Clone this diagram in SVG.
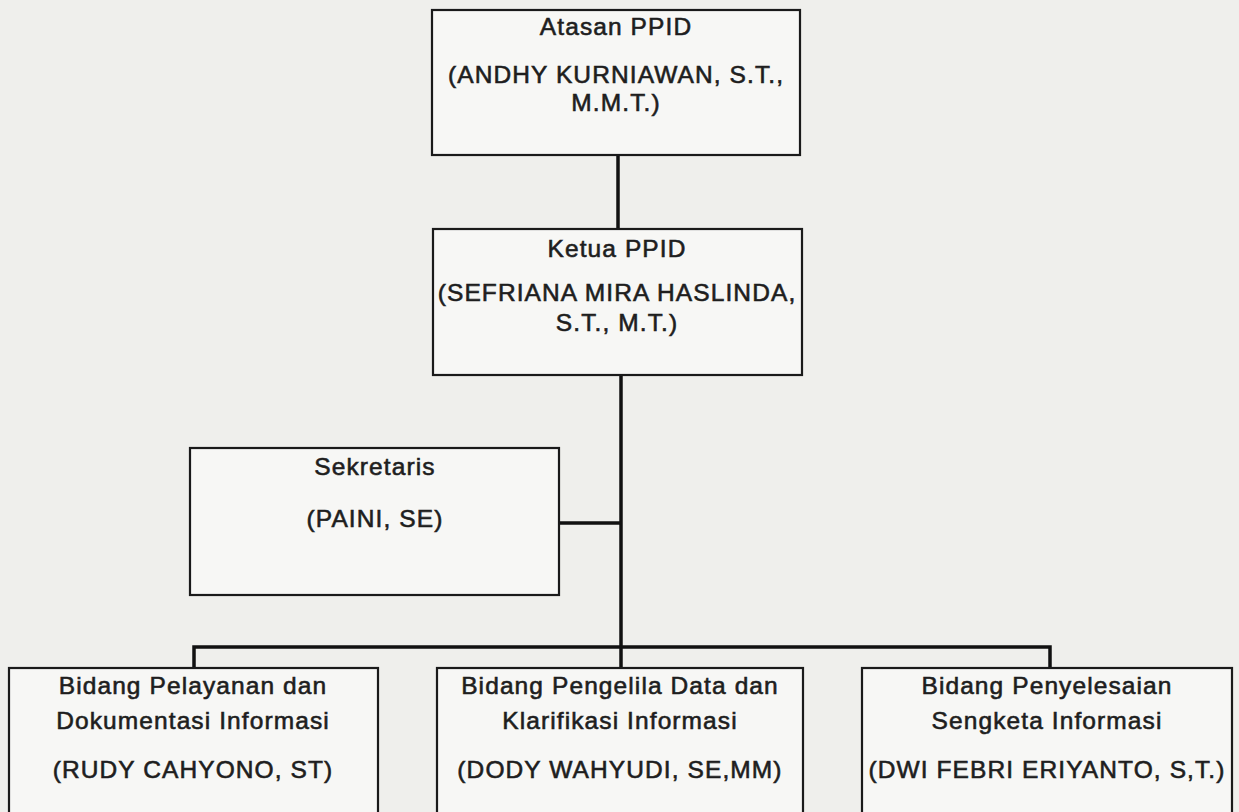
<svg xmlns="http://www.w3.org/2000/svg" width="1239" height="812" viewBox="0 0 1239 812">
<style>
.bg{fill:#efefec}
.box{fill:#f7f7f5;stroke:#1a1a1a;stroke-width:2.2}
.conn{fill:none;stroke:#111;stroke-width:3.5}
text{font-family:"Liberation Sans",Arial,sans-serif;font-size:24.5px;letter-spacing:1.1px;fill:#1e1e1e;stroke:#1e1e1e;stroke-width:0.6;text-anchor:middle}
</style>
<rect class="bg" x="0" y="0" width="1239" height="812"/>
<g id="connectors">
<line class="conn" x1="618" y1="155" x2="618" y2="229"/>
<line class="conn" x1="621" y1="375" x2="621" y2="669"/>
<line class="conn" x1="559" y1="523" x2="621" y2="523"/>
<polyline class="conn" points="194,669 194,647 1050,647 1050,669"/>
</g>
<g id="atasan">
<rect class="box" x="432" y="10" width="368" height="145"/>
<text x="616" y="35">Atasan PPID</text>
<text x="616" y="83">(ANDHY KURNIAWAN, S.T.,</text>
<text x="616" y="111">M.M.T.)</text>
</g>
<g id="ketua">
<rect class="box" x="433" y="229" width="369" height="146"/>
<text x="617" y="257">Ketua PPID</text>
<text x="617" y="301">(SEFRIANA MIRA HASLINDA,</text>
<text x="617" y="331">S.T., M.T.)</text>
</g>
<g id="sekretaris">
<rect class="box" x="190" y="448" width="369" height="147"/>
<text x="375" y="475">Sekretaris</text>
<text x="375" y="527">(PAINI, SE)</text>
</g>
<g id="bidang1">
<rect class="box" x="9" y="668" width="369" height="150"/>
<text x="193" y="694">Bidang Pelayanan dan</text>
<text x="193" y="729">Dokumentasi Informasi</text>
<text x="193" y="778">(RUDY CAHYONO, ST)</text>
</g>
<g id="bidang2">
<rect class="box" x="437" y="668" width="366" height="150"/>
<text x="620" y="694">Bidang Pengelila Data dan</text>
<text x="620" y="729">Klarifikasi Informasi</text>
<text x="620" y="778">(DODY WAHYUDI, SE,MM)</text>
</g>
<g id="bidang3">
<rect class="box" x="862" y="668" width="370" height="150"/>
<text x="1047" y="694">Bidang Penyelesaian</text>
<text x="1047" y="729">Sengketa Informasi</text>
<text x="1047" y="778">(DWI FEBRI ERIYANTO, S,T.)</text>
</g>
</svg>
